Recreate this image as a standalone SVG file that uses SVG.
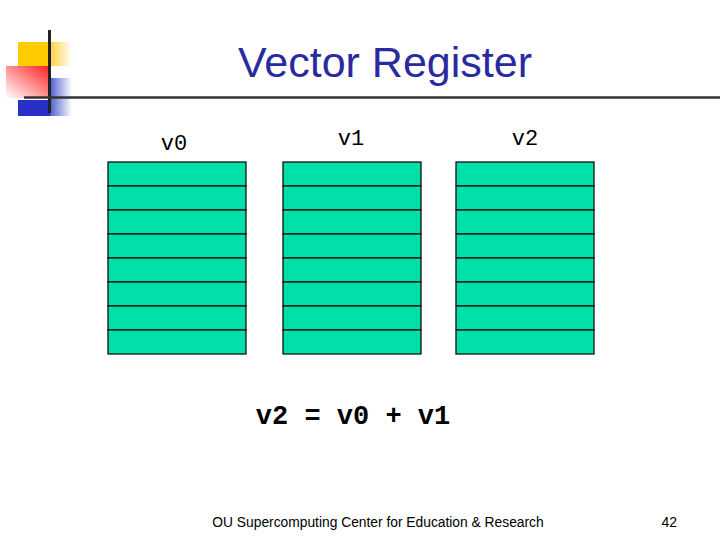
<svg xmlns="http://www.w3.org/2000/svg" width="720" height="540" viewBox="0 0 720 540">
<defs>
<linearGradient id="fy" x1="0" x2="1"><stop offset="0" stop-color="#ffd040"/><stop offset="1" stop-color="#ffd040" stop-opacity="0"/></linearGradient>
<linearGradient id="fb" x1="0" x2="1"><stop offset="0" stop-color="#5060d0"/><stop offset="1" stop-color="#5060d0" stop-opacity="0"/></linearGradient>
<linearGradient id="fr" x1="1" y1="0" x2="0" y2="1"><stop offset="0" stop-color="#ff2020"/><stop offset="1" stop-color="#ff2020" stop-opacity="0"/></linearGradient>
<style>
.cell{fill:#00e0a8;stroke:#111;stroke-width:1.3}
.mono{font-family:"Liberation Mono",monospace;fill:#000}
</style>
</defs>
<rect width="720" height="540" fill="#fff"/>
<g id="logo">
<rect x="18" y="42" width="32" height="24" fill="#ffcc00"/>
<rect x="50" y="42" width="22" height="24" fill="url(#fy)"/>
<rect x="50" y="78" width="22" height="38" fill="url(#fb)"/>
<rect x="18" y="100" width="32" height="16" fill="#2830c8"/>
<rect x="6" y="66" width="44" height="32" fill="url(#fr)"/>
<line x1="49.5" y1="30" x2="49.5" y2="113" stroke="#222" stroke-width="3"/>
<line x1="24" y1="97.5" x2="720" y2="97.5" stroke="#333" stroke-width="2.5"/>
</g>
<text x="385" y="77" text-anchor="middle" font-family="Liberation Sans,Arial,sans-serif" font-size="43" fill="#2a2aa0">Vector Register</text>
<g id="v0"><text class="mono" x="174" y="150" font-size="22" text-anchor="middle">v0</text>
<g transform="translate(108,162)"><rect class="cell" y="0" width="138" height="24"/><rect class="cell" y="24" width="138" height="24"/><rect class="cell" y="48" width="138" height="24"/><rect class="cell" y="72" width="138" height="24"/><rect class="cell" y="96" width="138" height="24"/><rect class="cell" y="120" width="138" height="24"/><rect class="cell" y="144" width="138" height="24"/><rect class="cell" y="168" width="138" height="24"/></g></g>
<g id="v1"><text class="mono" x="351" y="145" font-size="22" text-anchor="middle">v1</text>
<g transform="translate(283,162)"><rect class="cell" y="0" width="138" height="24"/><rect class="cell" y="24" width="138" height="24"/><rect class="cell" y="48" width="138" height="24"/><rect class="cell" y="72" width="138" height="24"/><rect class="cell" y="96" width="138" height="24"/><rect class="cell" y="120" width="138" height="24"/><rect class="cell" y="144" width="138" height="24"/><rect class="cell" y="168" width="138" height="24"/></g></g>
<g id="v2"><text class="mono" x="525" y="145" font-size="22" text-anchor="middle">v2</text>
<g transform="translate(456,162)"><rect class="cell" y="0" width="138" height="24"/><rect class="cell" y="24" width="138" height="24"/><rect class="cell" y="48" width="138" height="24"/><rect class="cell" y="72" width="138" height="24"/><rect class="cell" y="96" width="138" height="24"/><rect class="cell" y="120" width="138" height="24"/><rect class="cell" y="144" width="138" height="24"/><rect class="cell" y="168" width="138" height="24"/></g></g>
<text class="mono" x="353" y="424" font-size="27" font-weight="bold" text-anchor="middle">v2 = v0 + v1</text>
<text x="378" y="527" text-anchor="middle" font-family="Liberation Sans,Arial,sans-serif" font-size="13.8" fill="#000">OU Supercomputing Center for Education &amp; Research</text>
<text x="677" y="527" text-anchor="end" font-family="Liberation Sans,Arial,sans-serif" font-size="14" fill="#000">42</text>
</svg>
